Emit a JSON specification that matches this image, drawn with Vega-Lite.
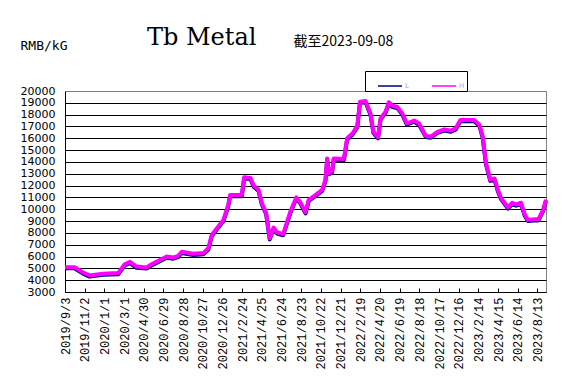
{
  "$schema": "https://vega.github.io/schema/vega-lite/v6.json",
  "width": 481,
  "height": 201,
  "autosize": {"type": "none"},
  "padding": {"left": 65, "top": 91, "right": 25, "bottom": 86},
  "background": "white",
  "title": {"text": "Tb Metal", "anchor": "start", "frame": "group", "dx": 82, "dy": 35, "font": "DejaVu Serif", "fontSize": 24, "fontWeight": "normal", "color": "black", "baseline": "alphabetic", "offset": 0},
  "data": {"values": [
    {"d": "2019-09-03", "H": 5100, "L": 5000},
    {"d": "2019-10-02", "H": 5100, "L": 5000},
    {"d": "2019-10-28", "H": 4650, "L": 4550},
    {"d": "2019-11-17", "H": 4400, "L": 4300},
    {"d": "2019-12-28", "H": 4550, "L": 4450},
    {"d": "2020-02-12", "H": 4600, "L": 4500},
    {"d": "2020-03-03", "H": 5350, "L": 5250},
    {"d": "2020-03-19", "H": 5550, "L": 5450},
    {"d": "2020-04-08", "H": 5150, "L": 5050},
    {"d": "2020-05-09", "H": 5080, "L": 4980},
    {"d": "2020-05-24", "H": 5350, "L": 5250},
    {"d": "2020-06-18", "H": 5700, "L": 5600},
    {"d": "2020-07-09", "H": 6000, "L": 5900},
    {"d": "2020-07-29", "H": 5920, "L": 5820},
    {"d": "2020-08-13", "H": 6050, "L": 5950},
    {"d": "2020-08-24", "H": 6400, "L": 6300},
    {"d": "2020-09-28", "H": 6230, "L": 6130},
    {"d": "2020-10-29", "H": 6300, "L": 6200},
    {"d": "2020-11-13", "H": 6700, "L": 6600},
    {"d": "2020-11-23", "H": 7800, "L": 7700},
    {"d": "2020-12-09", "H": 8400, "L": 8300},
    {"d": "2020-12-29", "H": 9100, "L": 9000},
    {"d": "2021-01-13", "H": 10400, "L": 10300},
    {"d": "2021-01-18", "H": 11200, "L": 11100},
    {"d": "2021-02-23", "H": 11200, "L": 11100},
    {"d": "2021-03-02", "H": 12700, "L": 12600},
    {"d": "2021-03-21", "H": 12650, "L": 12550},
    {"d": "2021-03-31", "H": 12000, "L": 11900},
    {"d": "2021-04-15", "H": 11650, "L": 11550},
    {"d": "2021-04-25", "H": 10500, "L": 10400},
    {"d": "2021-05-08", "H": 9700, "L": 9600},
    {"d": "2021-05-19", "H": 7550, "L": 7450},
    {"d": "2021-05-31", "H": 8450, "L": 8350},
    {"d": "2021-06-10", "H": 8050, "L": 7950},
    {"d": "2021-06-29", "H": 7900, "L": 7800},
    {"d": "2021-07-21", "H": 9800, "L": 9700},
    {"d": "2021-08-08", "H": 11000, "L": 10900},
    {"d": "2021-08-20", "H": 10600, "L": 10500},
    {"d": "2021-09-05", "H": 9750, "L": 9650},
    {"d": "2021-09-15", "H": 10800, "L": 10700},
    {"d": "2021-10-05", "H": 11200, "L": 11100},
    {"d": "2021-10-26", "H": 11650, "L": 11550},
    {"d": "2021-11-05", "H": 12500, "L": 12400},
    {"d": "2021-11-10", "H": 14300, "L": 14200},
    {"d": "2021-11-15", "H": 13050, "L": 12950},
    {"d": "2021-11-25", "H": 13200, "L": 13100},
    {"d": "2021-11-30", "H": 14300, "L": 14200},
    {"d": "2021-12-31", "H": 14250, "L": 14150},
    {"d": "2022-01-10", "H": 16000, "L": 15900},
    {"d": "2022-01-26", "H": 16400, "L": 16300},
    {"d": "2022-02-10", "H": 17050, "L": 16950},
    {"d": "2022-02-18", "H": 19100, "L": 19000},
    {"d": "2022-03-07", "H": 19150, "L": 19050},
    {"d": "2022-03-22", "H": 18100, "L": 18000},
    {"d": "2022-03-31", "H": 16550, "L": 16450},
    {"d": "2022-04-14", "H": 16100, "L": 16000},
    {"d": "2022-04-22", "H": 17700, "L": 17600},
    {"d": "2022-05-07", "H": 18250, "L": 18150},
    {"d": "2022-05-17", "H": 19050, "L": 18950},
    {"d": "2022-05-28", "H": 18750, "L": 18650},
    {"d": "2022-06-12", "H": 18650, "L": 18550},
    {"d": "2022-06-27", "H": 18100, "L": 18000},
    {"d": "2022-07-11", "H": 17250, "L": 17150},
    {"d": "2022-08-02", "H": 17500, "L": 17400},
    {"d": "2022-08-17", "H": 17250, "L": 17150},
    {"d": "2022-09-07", "H": 16200, "L": 16100},
    {"d": "2022-09-22", "H": 16150, "L": 16050},
    {"d": "2022-10-12", "H": 16550, "L": 16450},
    {"d": "2022-11-02", "H": 16750, "L": 16650},
    {"d": "2022-11-22", "H": 16650, "L": 16550},
    {"d": "2022-12-07", "H": 16850, "L": 16750},
    {"d": "2022-12-21", "H": 17550, "L": 17450},
    {"d": "2023-02-01", "H": 17550, "L": 17450},
    {"d": "2023-02-17", "H": 17150, "L": 17050},
    {"d": "2023-02-27", "H": 16150, "L": 16050},
    {"d": "2023-03-09", "H": 13900, "L": 13800},
    {"d": "2023-03-22", "H": 12500, "L": 12400},
    {"d": "2023-04-04", "H": 12600, "L": 12500},
    {"d": "2023-04-14", "H": 11650, "L": 11550},
    {"d": "2023-04-24", "H": 10950, "L": 10850},
    {"d": "2023-05-15", "H": 10150, "L": 10050},
    {"d": "2023-05-28", "H": 10550, "L": 10450},
    {"d": "2023-06-09", "H": 10400, "L": 10300},
    {"d": "2023-06-24", "H": 10550, "L": 10450},
    {"d": "2023-07-05", "H": 9550, "L": 9450},
    {"d": "2023-07-15", "H": 9100, "L": 9000},
    {"d": "2023-08-04", "H": 9150, "L": 9050},
    {"d": "2023-08-16", "H": 9150, "L": 9050},
    {"d": "2023-08-30", "H": 9950, "L": 9850},
    {"d": "2023-09-08", "H": 10800, "L": 10700}
  ]},
  "transform": [{"fold": ["L", "H"], "as": ["series", "price"]}],
  "mark": {"type": "line", "strokeWidth": 4, "strokeJoin": "round"},
  "encoding": {
    "x": {
      "field": "d", "type": "temporal",
      "scale": {"type": "utc", "domain": [{"year": 2019, "month": 9, "date": 3, "utc": true}, {"year": 2023, "month": 9, "date": 8, "utc": true}]},
      "axis": {
        "values": [
          {"year": 2019, "month": 9, "date": 3, "utc": true},
          {"year": 2019, "month": 11, "date": 2, "utc": true},
          {"year": 2020, "month": 1, "date": 1, "utc": true},
          {"year": 2020, "month": 3, "date": 1, "utc": true},
          {"year": 2020, "month": 4, "date": 30, "utc": true},
          {"year": 2020, "month": 6, "date": 29, "utc": true},
          {"year": 2020, "month": 8, "date": 28, "utc": true},
          {"year": 2020, "month": 10, "date": 27, "utc": true},
          {"year": 2020, "month": 12, "date": 26, "utc": true},
          {"year": 2021, "month": 2, "date": 24, "utc": true},
          {"year": 2021, "month": 4, "date": 25, "utc": true},
          {"year": 2021, "month": 6, "date": 24, "utc": true},
          {"year": 2021, "month": 8, "date": 23, "utc": true},
          {"year": 2021, "month": 10, "date": 22, "utc": true},
          {"year": 2021, "month": 12, "date": 21, "utc": true},
          {"year": 2022, "month": 2, "date": 19, "utc": true},
          {"year": 2022, "month": 4, "date": 20, "utc": true},
          {"year": 2022, "month": 6, "date": 19, "utc": true},
          {"year": 2022, "month": 8, "date": 18, "utc": true},
          {"year": 2022, "month": 10, "date": 17, "utc": true},
          {"year": 2022, "month": 12, "date": 16, "utc": true},
          {"year": 2023, "month": 2, "date": 14, "utc": true},
          {"year": 2023, "month": 4, "date": 15, "utc": true},
          {"year": 2023, "month": 6, "date": 14, "utc": true},
          {"year": 2023, "month": 8, "date": 13, "utc": true}
        ],
        "labelExpr": "utcFormat(datum.value, '%Y/%-m/%-d')",
        "labelAngle": 270, "labelAlign": "right", "labelBaseline": "middle",
        "labelFont": "Liberation Mono", "labelFontSize": 12, "labelColor": "black",
        "labelOverlap": false, "labelBound": false, "labelFlush": false, "labelPadding": 9,
        "tickSize": -4, "tickColor": "black", "domainColor": "black", "grid": false,
        "title": "截至2023-09-08", "titleX": 228, "titleY": -247, "titleAlign": "left", "titleBaseline": "alphabetic",
        "titleFont": "Noto Sans CJK SC", "titleFontSize": 14, "titleFontWeight": "normal", "titleColor": "black"
      }
    },
    "y": {
      "field": "price", "type": "quantitative",
      "scale": {"domain": [3000, 20000], "nice": false, "zero": false},
      "axis": {
        "values": [3000, 4000, 5000, 6000, 7000, 8000, 9000, 10000, 11000, 12000, 13000, 14000, 15000, 16000, 17000, 18000, 19000, 20000],
        "format": "d",
        "title": "RMB/kG", "titleAngle": 0, "titleX": -45, "titleY": -42, "titleAlign": "left", "titleBaseline": "alphabetic",
        "titleFont": "DejaVu Sans Mono", "titleFontSize": 13, "titleFontWeight": "normal", "titleColor": "black",
        "labelFont": "DejaVu Sans", "labelFontSize": 11, "labelColor": "black",
        "labelOverlap": false, "labelBound": false, "labelFlush": false, "labelPadding": 10,
        "tickSize": 0, "domainColor": "black",
        "grid": true, "gridColor": {"condition": {"test": "datum.value === 20000", "value": "#808080"}, "value": "black"}, "gridOpacity": 1
      }
    },
    "color": {
      "field": "series", "type": "nominal",
      "scale": {"domain": ["L", "H"], "range": ["#000080", "#ff00ff"]},
      "legend": {
        "orient": "none", "legendX": 300, "legendY": -20, "direction": "horizontal", "title": null,
        "symbolType": "stroke", "symbolStrokeWidth": 1.5, "symbolSize": 576,
        "labelFont": "DejaVu Sans", "labelFontSize": 7, "labelOffset": 2,
        "strokeColor": "black", "fillColor": "white", "padding": 2, "columnPadding": 12, "symbolOffset": 10,
        "encode": {"labels": {"update": {"fill": {"signal": "datum.value === 'L' ? '#88aacc' : '#dd99cc'"}}}}
      }
    }
  },
  "config": {"view": {"stroke": "#808080", "strokeWidth": 1}}
}
